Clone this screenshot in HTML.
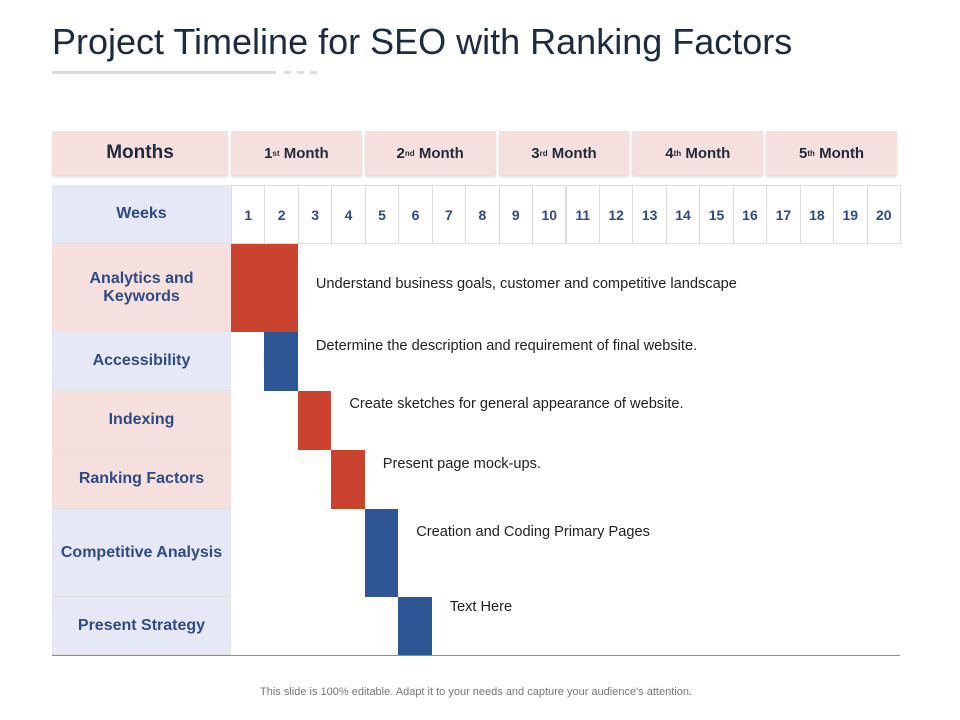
<!DOCTYPE html>
<html><head><meta charset="utf-8"><style>
body{margin:0;width:960px;height:720px;background:#fff;position:relative;overflow:hidden;font-family:"Liberation Sans",Arial,sans-serif}
.abs{position:absolute}
.title{left:52px;top:21px;font-size:36px;color:#1b2b40;white-space:nowrap}
.mh{background:#f6e0de;box-shadow:0 2px 2px #ddd;display:flex;align-items:center;justify-content:center;font-weight:bold;color:#1f2a3a;font-size:15px}
.lab{left:52px;width:179px;display:flex;align-items:center;justify-content:center;text-align:center;font-weight:bold;color:#2e4a86;font-size:16px;border-bottom:1px solid #e3dede;box-sizing:border-box}
.wk{top:185px;height:59px;border:1px solid #ddd;box-sizing:border-box;display:flex;align-items:center;justify-content:center;font-weight:bold;color:#2e4a86;font-size:14px}
.note{font-size:14.6px;color:#222;white-space:nowrap}
sup{font-size:8px}
</style></head><body>
<div class="abs title">Project Timeline for SEO with Ranking Factors</div>
<div class="abs" style="left:52px;top:71px;width:224px;height:3px;background:#d9d9d9"></div>
<div class="abs" style="left:284px;top:71px;width:34px;height:3px;background:repeating-linear-gradient(90deg,#ddd 0 7px,transparent 7px 13px)"></div>
<div class="abs mh" style="left:52px;top:131px;width:176px;height:44px;font-size:19px">Months</div>
<div id="chart"></div>
<div class="abs" style="left:52px;top:655px;width:848px;height:1px;background:#7d8db5"></div>
<div class="abs" style="left:0;width:952px;top:686px;text-align:center;font-size:11px;color:#777">This slide is 100% editable. Adapt it to your needs and capture your audience's attention.</div>
<script>
const months=["1","2","3","4","5"];
const monthSuffix=["st","nd","rd","th","th"];
const weeks=[1,2,3,4,5,6,7,8,9,10,11,12,13,14,15,16,17,18,19,20];
const tasks=["Analytics and<br>Keywords","Accessibility","Indexing","Ranking Factors","Competitive Analysis","Present Strategy"];
const taskStart=[1,2,3,4,5,6];
const taskSpan=[2,1,1,1,1,1];
const taskColor=["red","blue","red","red","blue","blue"];
const taskNotes=["Understand business goals, customer and competitive landscape","Determine the description and requirement of final website.","Create sketches for general appearance of website.","Present page mock-ups.","Creation and Coding Primary Pages","Text Here"];
const rowHeights=[88,59,59,59,88,58];
const labelBg=["#f6e0de","#e6e9f5","#f6e0de","#f6e0de","#e6e9f5","#e6e9f5"];
const noteDy=[32,6,5,6,15,2];

const c=document.getElementById('chart');
const X0=231,X1=900,colW=(X1-X0)/weeks.length;
const xw=w=>X0+(w-1)*colW;
function mk(cls,style,html){const d=document.createElement('div');d.className='abs '+cls;d.style.cssText=style;d.innerHTML=html||'';c.appendChild(d);return d;}
months.forEach((m,i)=>{
  const l=xw(i*4+1),r=xw(i*4+5);
  const d=mk('mh',`left:${l}px;top:131px;width:${r-l-3}px;height:44px`,`${m}<sup>${monthSuffix[i]}</sup>&nbsp;Month`);
  
  
});
const wl=mk('lab',`top:185px;height:59px;background:#e6e9f5`,'Weeks');


weeks.forEach((w,i)=>{
  const d=mk('wk',`left:${xw(w)}px;width:${colW+1}px`,String(w));
  
  
});
let y=244;
tasks.forEach((t,i)=>{
  const h=rowHeights[i];
  const lab=mk('lab',`top:${y}px;height:${h}px;background:${labelBg[i]}`,t);
  
  
  const l=xw(taskStart[i]),r=xw(taskStart[i]+taskSpan[i]);
  const bar=mk('',`left:${l}px;top:${y}px;width:${r-l}px;height:${h}px;background:${taskColor[i]=='red'?'#c9432f':'#2e5594'}`);
  
  
  const n=mk('note',`left:${r+18}px;top:${y+noteDy[i]}px`,taskNotes[i]);
  
  
  y+=h;
});
</script>
</body></html>
